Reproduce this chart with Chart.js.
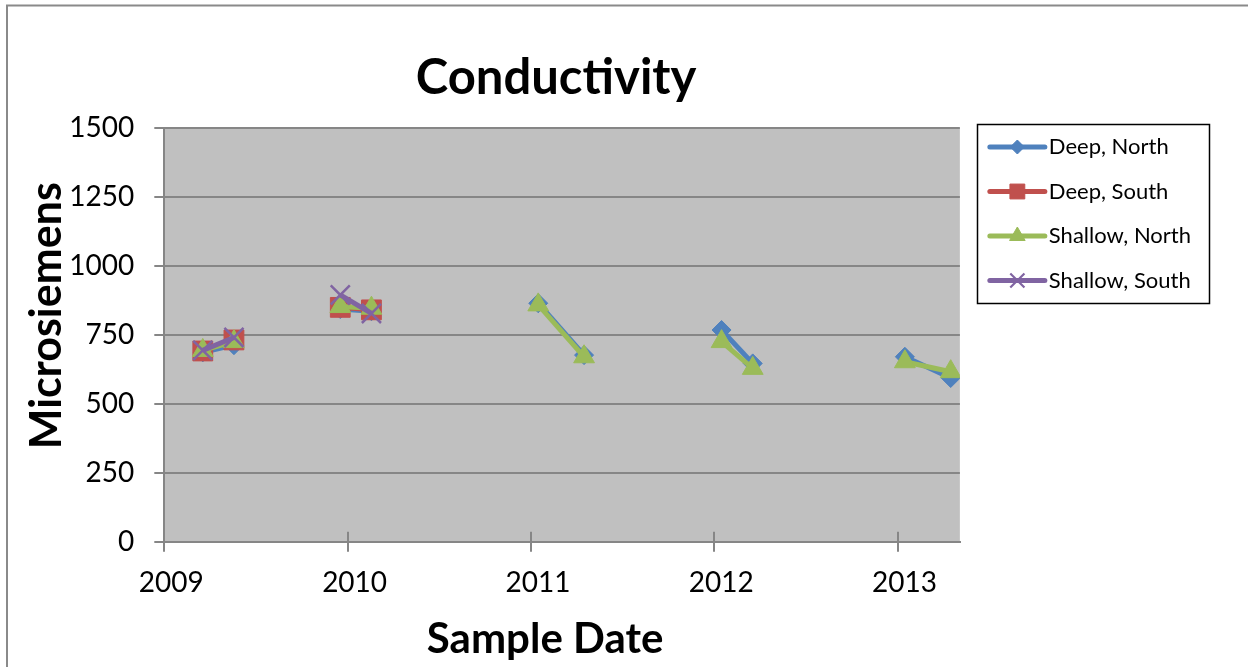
<!DOCTYPE html>
<html>
<head>
<meta charset="utf-8">
<script src="https://cdn.jsdelivr.net/npm/chart.js@4.4.1/dist/chart.umd.min.js"></script>
<style>
  html, body { margin: 0; padding: 0; background: #ffffff; }
  canvas { display: block; }
</style>
</head>
<body>
<canvas id="c" width="1248" height="667"></canvas>
<script>
// ---- data ----
const sampleDates = [2009.21, 2009.38, 2009.96, 2010.13, 2011.04, 2011.29, 2012.04, 2012.21, 2013.04, 2013.29];
const sampleGroup = [2009, 2009, 2010, 2010, 2011, 2011, 2012, 2012, 2013, 2013];
const seriesNames = ['Deep, North', 'Deep, South', 'Shallow, North', 'Shallow, South'];
const deepNorth    = [686, 712, 843, 835, 864, 676, 767, 646, 670, 593];
const deepSouth    = [691, 731, 849, 840, null, null, null, null, null, null];
const shallowNorth = [693, 725, 852, 846, 858, 670, 725, 628, 652, 616];
const shallowSouth = [693, 740, 894, 827, null, null, null, null, null, null];
const xTickValues = [2009, 2010, 2011, 2012, 2013];
const yTickValues = [0, 250, 500, 750, 1000, 1250, 1500];

// ---- styles ----
const colors = ['#4F81BD', '#C0504D', '#9BBB59', '#8064A2'];
const pointStyles = ['rectRot', 'rect', 'triangle', 'crossRot'];
const pointRadii = [9.5, 14, 12, 13.5];
const legendRadii = [7, 10.5, 9, 10];
const gridColor = '#868686';
const FONT = 'Lato, "Open Sans", sans-serif';
const titleShift = { x: [-17, 0], y: [0, -19] };
const chartTitleShift = [-6, 0];

function toPoints(vals) {
  return sampleDates.map((d, i) => ({ x: d, y: vals[i] }));
}
const seriesValues = [deepNorth, deepSouth, shallowNorth, shallowSouth];

const datasets = seriesValues.map((vals, k) => ({
  label: seriesNames[k],
  data: toPoints(vals),
  borderColor: colors[k],
  backgroundColor: colors[k],
  borderWidth: 5,
  pointStyle: pointStyles[k],
  pointRadius: pointRadii[k],
  pointHoverRadius: pointRadii[k],
  pointBorderWidth: k === 3 ? 2.5 : 1,
  pointBorderColor: colors[k],
  pointBackgroundColor: colors[k],
  spanGaps: false,
  tension: 0,
  order: 4 - k,
  segment: {
    borderColor: ctx => sampleGroup[ctx.p0DataIndex] !== sampleGroup[ctx.p1DataIndex] ? 'rgba(0,0,0,0)' : undefined
  }
}));

function shiftDraw(obj, method, dx, dy) {
  if (!obj || obj['_shift_' + method]) return;
  const orig = obj[method];
  obj[method] = function () {
    const c = this.ctx;
    c.save();
    c.translate(dx, dy);
    const r = orig.apply(this, arguments);
    c.restore();
    return r;
  };
  obj['_shift_' + method] = true;
}

const decorPlugin = {
  id: 'decor',
  afterLayout(chart) {
    // Excel places titles slightly off-centre: nudge the library's own title drawing
    Object.keys(titleShift).forEach(id => shiftDraw(chart.scales[id], 'drawTitle', titleShift[id][0], titleShift[id][1]));
    shiftDraw(chart.titleBlock, 'draw', chartTitleShift[0], chartTitleShift[1]);
  },
  beforeDraw(chart) {
    const { ctx, chartArea: a } = chart;
    ctx.save();
    ctx.fillStyle = '#ffffff';
    ctx.fillRect(0, 0, chart.width, chart.height);
    // outer chart border
    ctx.strokeStyle = '#8a8a8a';
    ctx.lineWidth = 2;
    ctx.beginPath();
    ctx.moveTo(7, chart.height);
    ctx.lineTo(7, 5.5);
    ctx.lineTo(chart.width, 5.5);
    ctx.stroke();
    // plot area fill
    ctx.fillStyle = '#C0C0C0';
    ctx.fillRect(a.left, a.top, a.right - a.left, a.bottom - a.top);
    ctx.restore();
  },
  beforeDatasetsDraw(chart) {
    // inner half of x tick marks (Excel "cross" ticks)
    const { ctx, chartArea: a } = chart;
    const xs = chart.scales.x;
    ctx.save();
    ctx.strokeStyle = gridColor;
    ctx.lineWidth = 2;
    xTickValues.forEach(v => {
      const px = Math.round(xs.getPixelForValue(v));
      ctx.beginPath();
      ctx.moveTo(px, a.bottom);
      ctx.lineTo(px, a.bottom - 10);
      ctx.stroke();
    });
    ctx.restore();
  },
  afterDraw(chart) {
    const lg = chart.legend;
    if (!lg || !lg.legendHitBoxes || !lg.legendHitBoxes.length) return;
    const { ctx } = chart;
    const boxes = lg.legendHitBoxes;
    ctx.save();
    // legend frame
    let maxRight = 0;
    boxes.forEach(b => { maxRight = Math.max(maxRight, b.left + b.width); });
    const fl = boxes[0].left - 3;
    const ft = boxes[0].top - 11;
    const last = boxes[boxes.length - 1];
    const fb = last.top + last.height + 9.5;
    const fr = maxRight + 18;
    ctx.strokeStyle = '#000000';
    ctx.lineWidth = 1.5;
    ctx.strokeRect(Math.round(fl) + 0.5, Math.round(ft) + 0.5, Math.round(fr - fl), Math.round(fb - ft));
    // samples: line + marker
    lg.legendItems.forEach((item, i) => {
      const b = boxes[i];
      const k = item.datasetIndex;
      const cy = b.top + b.height / 2;
      const x0 = b.left + 10, x1 = b.left + 65;
      ctx.strokeStyle = colors[k];
      ctx.lineWidth = 5;
      ctx.lineCap = 'round';
      ctx.beginPath();
      ctx.moveTo(x0, cy);
      ctx.lineTo(x1, cy);
      ctx.stroke();
      ctx.lineCap = 'butt';
      ctx.fillStyle = colors[k];
      ctx.strokeStyle = colors[k];
      ctx.lineWidth = k === 3 ? 2.2 : 1;
      if (Chart.helpers && Chart.helpers.drawPoint) {
        Chart.helpers.drawPoint(ctx, { pointStyle: pointStyles[k], radius: legendRadii[k], rotation: 0, borderWidth: ctx.lineWidth }, (x0 + x1) / 2, cy);
      }
    });
    ctx.restore();
  }
};

new Chart(document.getElementById('c'), {
  type: 'line',
  data: { datasets },
  plugins: [decorPlugin],
  options: {
    responsive: false,
    animation: false,
    events: [],
    layout: { padding: { left: 0, top: 0, right: 47, bottom: 0 } },
    plugins: {
      tooltip: { enabled: false },
      title: {
        display: true,
        text: 'Conductivity',
        color: '#000000',
        fullSize: false,
        font: { family: FONT, size: 49, weight: 'bold', lineHeight: 1.2 },
        padding: { top: 48.6, bottom: 20.3 }
      },
      legend: {
        display: true,
        position: 'right',
        align: 'start',
        fullSize: true,
        title: { display: true, text: '', font: { size: 10, lineHeight: 1 }, padding: { top: 104.75, bottom: 0 } },
        labels: {
          color: '#000000',
          font: { family: FONT, size: 22 },
          boxWidth: 58,
          boxHeight: 24.5,
          padding: 20,
          sort: (a, b) => a.datasetIndex - b.datasetIndex,
          generateLabels: chart => Chart.defaults.plugins.legend.labels.generateLabels(chart).map(l => Object.assign(l, {
            fillStyle: 'rgba(0,0,0,0)', strokeStyle: 'rgba(0,0,0,0)', lineWidth: 0
          }))
        }
      }
    },
    scales: {
      x: {
        type: 'linear',
        min: 2009,
        max: 2013.34,
        afterBuildTicks: s => { s.ticks = xTickValues.map(v => ({ value: v })); },
        afterFit: s => { s.height = 125.3; },
        ticks: {
          color: '#000000',
          font: { family: FONT, size: 28 },
          padding: 14,
          labelOffset: 7,
          maxRotation: 0,
          autoSkip: false,
          callback: v => String(v)
        },
        grid: { drawOnChartArea: false, drawTicks: true, tickLength: 10, color: gridColor, lineWidth: 2 },
        border: { display: true, color: gridColor, width: 2 },
        title: {
          display: true,
          text: 'Sample Date',
          color: '#000000',
          font: { family: FONT, size: 42, weight: 'bold', lineHeight: 1.2 },
          padding: { top: 0, bottom: 2.6 }
        }
      },
      y: {
        type: 'linear',
        min: 0,
        max: 1500,
        afterBuildTicks: s => { s.ticks = yTickValues.map(v => ({ value: v })); },
        afterFit: s => { s.width = 164.3; },
        ticks: {
          color: '#000000',
          font: { family: FONT, size: 28 },
          padding: 20,
          autoSkip: false,
          callback: v => String(v)
        },
        grid: { drawOnChartArea: true, drawTicks: true, tickLength: 10, color: gridColor, lineWidth: 2 },
        border: { display: true, color: gridColor, width: 2 },
        title: {
          display: true,
          text: 'Microsiemens',
          color: '#000000',
          font: { family: FONT, size: 43, weight: 'bold', lineHeight: 1.2 },
          padding: { top: 21, bottom: 0 }
        }
      }
    }
  }
});
</script>
</body>
</html>
